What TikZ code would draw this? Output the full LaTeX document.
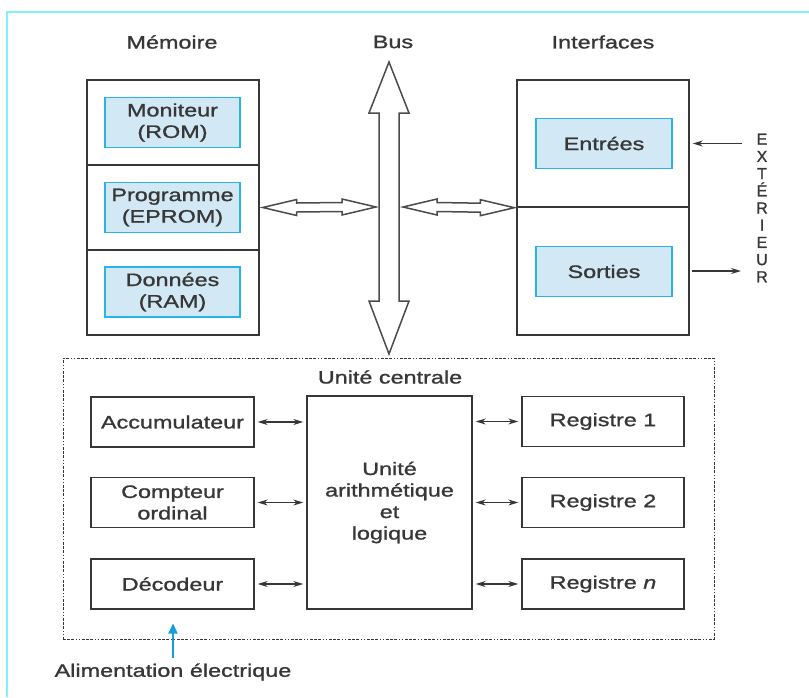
\documentclass[tikz,border=0pt]{standalone}
\usepackage{fontspec}
\setmainfont{Liberation Sans}[FakeStretch=1.3,FakeBold=1.2]
\newfontfamily\extfont{Liberation Sans}[FakeBold=1.2]
\usetikzlibrary{calc,arrows.meta}
\definecolor{framecyan}{RGB}{128,242,250}
\definecolor{boxblue}{RGB}{210,232,245}
\definecolor{edgeblue}{RGB}{40,180,230}
\definecolor{powerblue}{RGB}{20,160,215}
\definecolor{ink}{RGB}{55,55,55}

\begin{document}
\begin{tikzpicture}[x=1pt,y=-1pt,
  every node/.style={font=\fontsize{18}{21.5}\selectfont, text=ink},
  cell/.style={draw=ink, line width=1.4pt, minimum width=172pt, inner sep=0pt},
  bluebox/.style={draw=edgeblue, fill=boxblue, line width=1.1pt, minimum width=135pt,
    minimum height=50pt, align=center, inner sep=0pt},
  unitbox/.style={draw=ink, line width=1.4pt, minimum width=163pt, minimum height=50pt,
    align=center, inner sep=0pt},
  hollow/.style={draw=ink!90, line width=1.5pt, fill=white, line join=miter},
  link/.style={{Stealth[length=10pt,width=6pt]}-{Stealth[length=10pt,width=6pt]},
    draw=ink, line width=1.2pt},
  outlink/.style={-{Stealth[length=10pt,width=6pt]}, draw=ink, line width=1.2pt},
  cpuframe/.style={draw=ink, line width=1pt,
    dash pattern=on 3pt off 1pt on 3pt off 1pt on 3pt off 2pt on 1pt off 2pt on 1pt off 2pt},
  power/.style={-{Triangle[length=10pt,width=9pt]}, draw=powerblue, line width=2.2pt}]

  % Frame and page size
  \useasboundingbox (0,0) rectangle (809,697);
  \draw[framecyan, line width=2pt] (809,12) -- (7,12) -- (7,697);

  % Titles
  \node (memtitle) at (172,42) {Mémoire};
  \node (bustitle) at (393,42) {Bus};
  \node (iftitle) at (603,42) {Interfaces};

  % Memory
  \node[cell, minimum height=85pt] (memrom) at (173,122.5) {};
  \node[cell, minimum height=85pt] (memeprom) at (173,207.5) {};
  \node[cell, minimum height=85pt] (memram) at (173,292.5) {};
  \node[bluebox] (rom) at (172.5,122.5) {Moniteur\\(ROM)};
  \node[bluebox] (eprom) at (172.5,207.5) {Programme\\(EPROM)};
  \node[bluebox] (ram) at (172.5,292) {Données\\(RAM)};

  % Interfaces
  \node[cell, minimum height=127pt] (ifin) at (603,143.5) {};
  \node[cell, minimum height=128pt] (ifout) at (603,271) {};
  \node[bluebox, minimum width=136pt] (entrees) at (604,143.5) {Entrées};
  \node[bluebox, minimum width=136pt] (sorties) at (604,271.5) {Sorties};

  % Exterior
  \node[font=\extfont\fontsize{16}{17.2}\selectfont, align=center] (ext) at (762,208)
    {E\\X\\T\\É\\R\\I\\E\\U\\R};
  \coordinate (extin) at (742,143.5);
  \coordinate (extout) at (741,271);
  \draw[outlink] (extin) -- ($(ifin.east)+(3,0)$);
  \draw[outlink] ($(ifout.east)+(2,0)$) -- (extout);

  % Bus
  \coordinate (bustop) at (389,62);
  \coordinate (busbot) at (389,354);
  \draw[hollow] (bustop) -- ++(20,51) -- ++(-10,0) -- ($(busbot)+(10,-53)$) -- ++(10,0)
    -- (busbot) -- ++(-20,-53) -- ++(10,0) -- ($(bustop)+(-10,51)$) -- ++(-10,0) -- cycle;

  % Links to the bus
  \coordinate (meml) at ($(memeprom.east)+(3,0)$);
  \coordinate (busl) at (376,207);
  \coordinate (busr) at (403,207);
  \coordinate (ifl) at ($(ifin.south west)+(-2,0)$);
  \foreach \from/\to in {meml/busl, busr/ifl}
    \draw[hollow] (\from) -- ($(\from)+(34,-8)$) -- ($(\from)+(34,-4.5)$)
      -- ($(\to)+(-34,-4.5)$) -- ($(\to)+(-34,-8)$) -- (\to) -- ($(\to)+(-34,8)$)
      -- ($(\to)+(-34,4.5)$) -- ($(\from)+(34,4.5)$) -- ($(\from)+(34,8)$) -- cycle;

  % Central unit
  \node[cpuframe, minimum width=651pt, minimum height=281pt] (cpu) at (388.5,498.5) {};
  \node (cputitle) at (390,377) {Unité centrale};
  \node[unitbox] (acc) at (172.5,422) {Accumulateur};
  \node[unitbox] (cpt) at (172.5,502.5) {Compteur\\ordinal};
  \node[unitbox] (dec) at (172.5,584) {Décodeur};
  \node[unitbox, minimum width=165pt, minimum height=213pt] (alu) at (389.5,502.5)
    {Unité\\arithmétique\\et\\logique};
  \node[unitbox, minimum width=162pt] (reg1) at (603,421.5) {Registre 1};
  \node[unitbox, minimum width=162pt] (reg2) at (603,502.5) {Registre 2};
  \node[unitbox, minimum width=162pt] (regn) at (603,584) {Registre \textit{n}};

  \foreach \u in {acc,cpt,dec}
    \draw[link, shorten <=3pt, shorten >=3pt] (\u.east) -- (\u.east -| alu.west);
  \foreach \r in {reg1,reg2,regn}
    \draw[link, shorten <=3pt, shorten >=3pt] (\r.west -| alu.east) -- (\r.west);

  % Power supply
  \node (alim) at (173,672) {Alimentation électrique};
  \draw[power] ($(alim.north)+(0,-2)$) -- ($(cpu.south -| alim.north)+(0,-16)$);
\end{tikzpicture}
\end{document}
